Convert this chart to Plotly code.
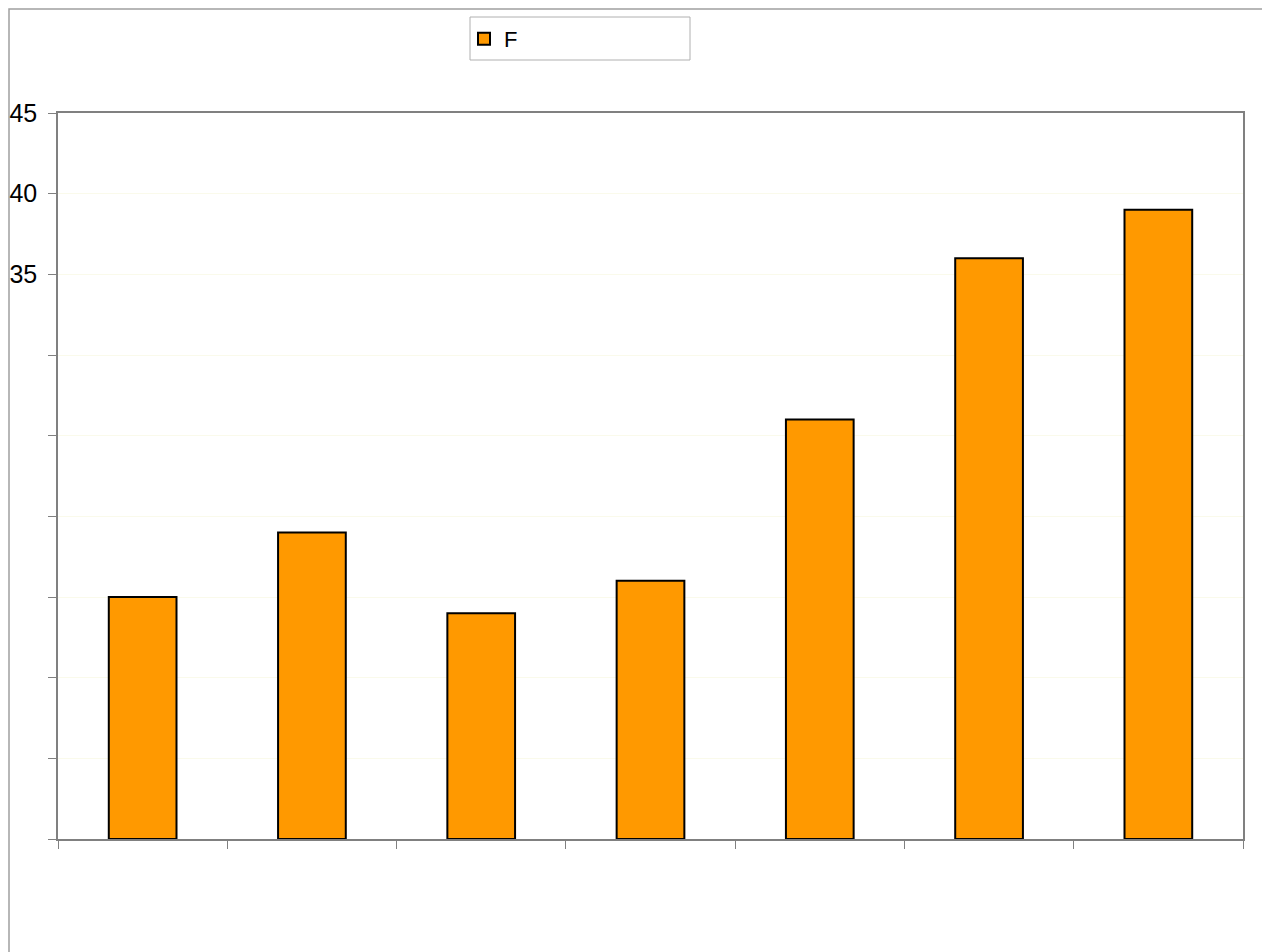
import plotly.graph_objects as go

categories = ["1", "2", "3", "4", "5", "6", "7"]
values = [15, 19, 14, 16, 26, 36, 39]
series_name = "F"
y_tickvals = [0, 5, 10, 15, 20, 25, 30, 35, 40, 45]
y_ticktext = ["", "", "", "", "", "", "", "35", "40", "45"]

OFF = 8  # page body margin
W, H = 1262, 944
# target plot area on screen: x 58..1243, y 113..839
L = 58 - OFF
T = 113 - OFF
R = OFF + W - 1243
B = OFF + H - 839
pw, ph = W - L - R, H - T - B

def px_x(x):
    return (x - OFF - L) / pw

def px_y(y):
    return (H - B - (y - OFF)) / ph

fig = go.Figure()
fig.add_trace(go.Bar(
    x=categories, y=values, name=series_name,
    marker=dict(color="#FF9900", line=dict(color="#000000", width=2)),
    showlegend=True,
))

fig.update_layout(
    width=W, height=H,
    margin=dict(l=L, r=R, t=T, b=B, pad=0, autoexpand=False),
    paper_bgcolor="white", plot_bgcolor="white",
    bargap=0.6,
    font=dict(family="Liberation Sans, Arial, sans-serif", size=24, color="black"),
    showlegend=True,
    legend=dict(
        x=px_x(464), y=px_y(18), xanchor="left", yanchor="top",
        bgcolor="rgba(0,0,0,0)", borderwidth=0,
        font=dict(size=22, color="black"),
        itemwidth=30,
    ),
    xaxis=dict(
        type="category", tickson="boundaries", ticks="outside", ticklen=8,
        tickcolor="#808080", showticklabels=False, showgrid=False,
        showline=True, linecolor="#808080", linewidth=1.5, mirror=True,
        zeroline=False, automargin=False,
    ),
    yaxis=dict(
        range=[0, 45], tickvals=y_tickvals, ticktext=y_ticktext,
        ticks="outside", ticklen=8, tickcolor="#808080",
        tickfont=dict(size=25),
        showgrid=True, gridcolor="#FAFAEB", gridwidth=1,
        showline=True, linecolor="#808080", linewidth=1.5, mirror=True,
        zeroline=False, ticklabelstandoff=6, automargin=False,
    ),
    shapes=[
        # outer frame (left & top)
        dict(type="rect", xref="paper", yref="paper",
             x0=px_x(9), x1=px_x(1300), y0=px_y(1000), y1=px_y(9),
             line=dict(color="#A0A0A0", width=1.5), fillcolor="rgba(0,0,0,0)", layer="below"),
        # legend box
        dict(type="rect", xref="paper", yref="paper",
             x0=px_x(470), x1=px_x(690), y0=px_y(60), y1=px_y(17),
             line=dict(color="#B0B0B0", width=1), fillcolor="rgba(0,0,0,0)"),
    ],
)

fig.write_html("out.html")
